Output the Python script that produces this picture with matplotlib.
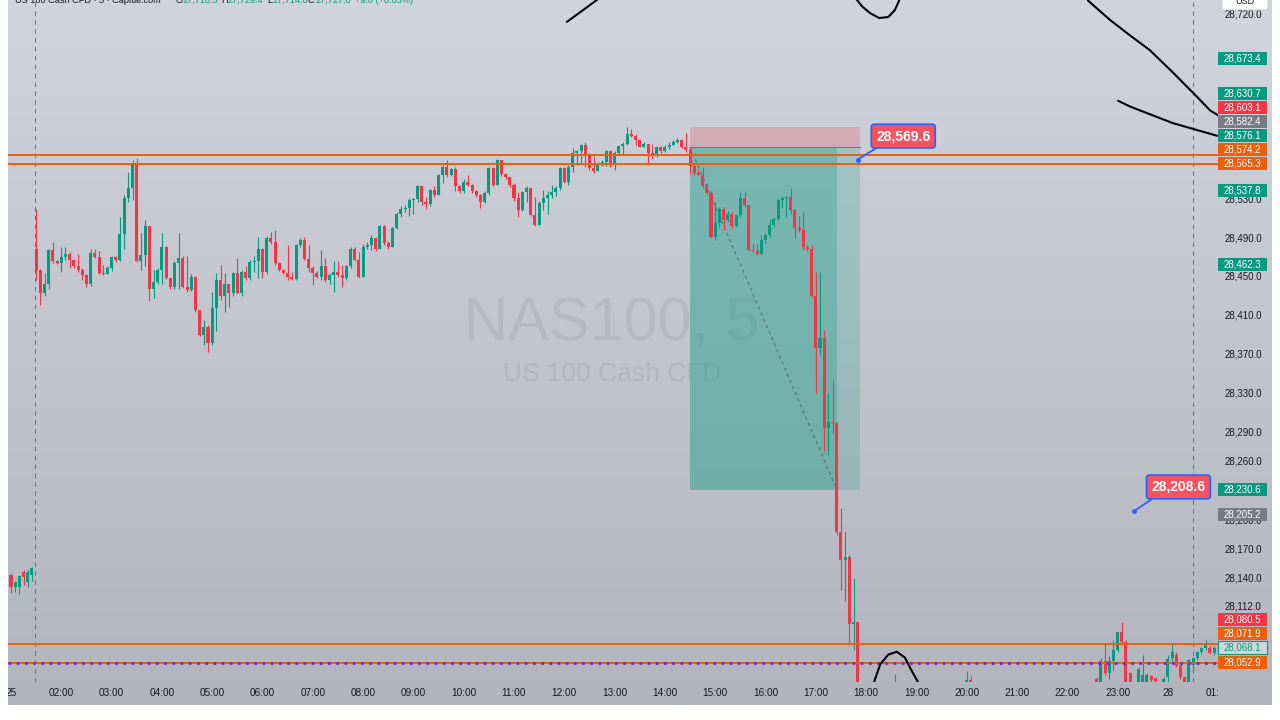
import numpy as np
import pandas as pd
import matplotlib
matplotlib.use('Agg')
import matplotlib.pyplot as plt
from matplotlib.patches import Rectangle, FancyBboxPatch
from matplotlib.transforms import Bbox, blended_transform_factory

plt.rcParams['font.family'] = ['Liberation Sans', 'DejaVu Sans']

# ---- data: NAS100 5-minute candles ----
# 01:00 - 01:25, before the session break
pre_open = [28143, 28130, 28130, 28146, 28136, 28143]
pre_high = [28145, 28137, 28143, 28148, 28148, 28151]
pre_low = [28124, 28125, 28123, 28133, 28130, 28137]
pre_close = [28131, 28136, 28142, 28141, 28146, 28150]

# 01:30 - 17:50 (open of each bar = previous close)
first_open = 28478
closes = [
    28456, 28432, 28442, 28477, 28465, 28463, 28470, 28473, 28466, 28460,
    28456, 28451, 28442, 28474, 28470, 28453, 28452, 28458, 28470, 28466,
    28493, 28530, 28540, 28566, 28465, 28472, 28501, 28437, 28444, 28456,
    28480, 28448, 28439, 28463, 28468, 28439, 28436, 28449, 28415, 28389,
    28398, 28381, 28417, 28446, 28429, 28442, 28432, 28453, 28432, 28454,
    28448, 28464, 28465, 28478, 28454, 28489, 28485, 28463, 28456, 28453,
    28449, 28447, 28482, 28487, 28467, 28458, 28453, 28449, 28460, 28446,
    28451, 28454, 28451, 28448, 28460, 28478, 28466, 28449, 28480, 28482,
    28489, 28478, 28501, 28484, 28480, 28499, 28514, 28519, 28520, 28528,
    28529, 28542, 28526, 28524, 28538, 28533, 28554, 28562, 28554, 28560,
    28542, 28537, 28547, 28543, 28537, 28533, 28526, 28535, 28561, 28543,
    28569, 28555, 28552, 28543, 28530, 28518, 28536, 28540, 28513, 28502,
    28525, 28530, 28533, 28536, 28540, 28561, 28547, 28562, 28576, 28578,
    28585, 28574, 28561, 28558, 28565, 28567, 28578, 28564, 28576, 28584,
    28586, 28596, 28594, 28590, 28583, 28586, 28576, 28574, 28583, 28578,
    28583, 28585, 28588, 28590, 28583, 28579, 28563, 28556, 28554, 28542,
    28535, 28490, 28504, 28519, 28507, 28514, 28501, 28513, 28530, 28523,
    28477, 28476, 28473, 28487, 28492, 28502, 28509, 28528, 28530, 28531,
    28518, 28499, 28497, 28480, 28478, 28429, 28376, 28386, 28294, 28300,
    28299, 28187, 28158, 28161, 28092, 28095, 28020,
]
highs = [
    28519, 28457, 28453, 28478, 28485, 28466, 28480, 28480, 28475, 28467,
    28473, 28458, 28452, 28478, 28478, 28476, 28461, 28460, 28471, 28471,
    28511, 28533, 28557, 28569, 28571, 28494, 28507, 28501, 28456, 28458,
    28494, 28481, 28448, 28465, 28494, 28471, 28471, 28452, 28450, 28415,
    28405, 28400, 28434, 28453, 28461, 28453, 28442, 28454, 28468, 28456,
    28460, 28466, 28471, 28490, 28479, 28491, 28495, 28497, 28464, 28457,
    28482, 28454, 28483, 28489, 28490, 28482, 28460, 28455, 28477, 28468,
    28453, 28465, 28465, 28461, 28461, 28480, 28480, 28475, 28483, 28485,
    28492, 28490, 28502, 28502, 28486, 28500, 28516, 28522, 28523, 28530,
    28530, 28543, 28542, 28531, 28539, 28542, 28555, 28564, 28569, 28561,
    28562, 28543, 28550, 28554, 28544, 28538, 28534, 28537, 28562, 28562,
    28570, 28569, 28556, 28552, 28545, 28536, 28537, 28542, 28540, 28531,
    28527, 28538, 28537, 28543, 28542, 28562, 28562, 28564, 28581, 28579,
    28586, 28588, 28576, 28573, 28567, 28569, 28579, 28578, 28578, 28585,
    28588, 28603, 28601, 28596, 28590, 28588, 28586, 28586, 28584, 28584,
    28585, 28588, 28590, 28592, 28591, 28597, 28582, 28566, 28560, 28562,
    28545, 28537, 28526, 28521, 28521, 28517, 28516, 28514, 28536, 28536,
    28523, 28483, 28483, 28492, 28494, 28509, 28511, 28530, 28532, 28532,
    28540, 28519, 28512, 28516, 28482, 28482, 28454, 28454, 28394, 28330,
    28343, 28300, 28212, 28187, 28163, 28140, 28095,
]
lows = [
    28446, 28420, 28429, 28437, 28463, 28462, 28454, 28466, 28458, 28458,
    28454, 28446, 28439, 28440, 28468, 28452, 28451, 28452, 28455, 28464,
    28465, 28478, 28526, 28528, 28464, 28456, 28460, 28424, 28427, 28442,
    28442, 28447, 28437, 28437, 28437, 28438, 28434, 28435, 28413, 28388,
    28379, 28372, 28379, 28393, 28425, 28413, 28418, 28429, 28431, 28429,
    28446, 28446, 28454, 28448, 28448, 28452, 28483, 28461, 28455, 28452,
    28446, 28446, 28446, 28480, 28466, 28454, 28441, 28448, 28446, 28444,
    28442, 28434, 28449, 28439, 28446, 28458, 28465, 28448, 28449, 28478,
    28477, 28476, 28478, 28482, 28478, 28480, 28498, 28511, 28516, 28512,
    28514, 28526, 28523, 28519, 28522, 28531, 28533, 28545, 28552, 28553,
    28537, 28535, 28535, 28542, 28535, 28531, 28520, 28525, 28533, 28542,
    28543, 28553, 28550, 28541, 28527, 28511, 28517, 28526, 28512, 28501,
    28502, 28518, 28514, 28530, 28532, 28538, 28545, 28543, 28557, 28564,
    28566, 28562, 28559, 28556, 28558, 28563, 28563, 28562, 28559, 28574,
    28574, 28585, 28593, 28585, 28583, 28582, 28566, 28570, 28572, 28576,
    28577, 28580, 28585, 28587, 28581, 28577, 28555, 28554, 28553, 28540,
    28533, 28489, 28487, 28500, 28497, 28505, 28499, 28500, 28511, 28521,
    28476, 28475, 28472, 28474, 28484, 28490, 28500, 28507, 28520, 28511,
    28514, 28489, 28495, 28477, 28476, 28428, 28330, 28369, 28270, 28266,
    28288, 28184, 28127, 28116, 28071, 28066, 27990,
]

# evening / overnight bars that reach into the visible price range
late_times = ['18:35', '20:00', '20:05', '22:35', '22:40', '22:45', '22:50', '22:55',
              '23:00', '23:05', '23:10', '23:15', '23:25', '23:30', '23:35', '23:40',
              '23:45', '23:55', '00:00', '00:05', '00:10', '00:15', '00:20', '00:25',
              '00:30', '00:35', '00:40', '00:45', '00:50', '00:55']
late_open = [28030, 28005, 28035, 28036, 28010, 28054, 28042, 28054,
             28066, 28084, 28074, 28042, 28025, 28033, 28030, 28039,
             28037, 28020, 28038, 28058, 28061, 28050, 28038, 28030,
             28050, 28058, 28064, 28068, 28068, 28063]
late_high = [28041, 28044, 28039, 28038, 28058, 28073, 28060, 28076,
             28084, 28095, 28076, 28043, 28048, 28061, 28042, 28040,
             28037, 28038, 28061, 28073, 28064, 28051, 28039, 28057,
             28059, 28065, 28069, 28076, 28070, 28070]
late_low = [28000, 28000, 28000, 28000, 28005, 28040, 28036, 28045,
            28064, 28072, 28000, 28000, 28010, 28020, 28020, 28020,
            28020, 28010, 28030, 28052, 28048, 28036, 28010, 28025,
            28046, 28056, 28062, 28066, 28062, 28061]
late_close = [28010, 28035, 28010, 28010, 28054, 28042, 28054, 28066,
              28084, 28074, 28010, 28020, 28046, 28040, 28040, 28035,
              28034, 28036, 28057, 28064, 28049, 28038, 28030, 28056,
              28058, 28064, 28068, 28073, 28063, 28068.1]

# drawn levels and short-position tool
level_prices = [28574.2, 28565.3, 28071.9, 28052.9]
dotted_level = 28052.9
entry_price, stop_price, target_price = 28582.4, 28603.1, 28230.6
pos_start, pos_hit, pos_end = '14:30', '17:25', '17:53'
callout_values = [28569.6, 28208.6]
callout_times = ['17:50', '23:20']

# price-scale labels
label_vals = [28673.4, 28630.7, 28603.1, 28582.4, 28576.1, 28574.2, 28565.3, 28537.8,
              28462.3, 28230.6, 28205.2, 28080.5, 28071.9, 28068.1, 28052.9]
label_kinds = ['up', 'up', 'down', 'gray', 'up', 'level', 'level', 'up',
               'up', 'up', 'gray', 'down', 'level', 'last', 'level']
ytick_vals = [28720, 28530, 28490, 28450, 28410, 28370, 28330, 28290, 28260,
              28200, 28170, 28140, 28112]
xtick_hours = [1] + list(range(2, 24)) + [24, 25]
xtick_labels = ['25'] + [f'{h:02d}:00' for h in range(2, 24)] + ['28', '01:00']

GREEN = '#089981'
RED = '#f23645'
ORANGE = '#ec5f0a'
BLUE = '#2962ff'
TEXT = '#131722'


def hours(s):
    h, m = s.split(':')
    v = int(h) + int(m) / 60
    return v + 24 if v < 1 else v


# ---- build OHLC ----
t_pre = pd.date_range('2025-06-27 01:00', periods=len(pre_close), freq='5min')
t_main = pd.date_range('2025-06-27 01:30', periods=len(closes), freq='5min')
c_main = np.array(closes, float)
o_main = np.r_[first_open, c_main[:-1]]
h_main = np.maximum(np.array(highs, float), np.maximum(o_main, c_main))
l_main = np.minimum(np.array(lows, float), np.minimum(o_main, c_main))

def to_h(ts):
    return np.array([t.hour + t.minute / 60 for t in ts])

T = np.r_[to_h(t_pre), to_h(t_main), [hours(s) for s in late_times]]
O = np.r_[pre_open, o_main, late_open]
Hh = np.r_[pre_high, h_main, late_high]
L = np.r_[pre_low, l_main, late_low]
C = np.r_[pre_close, c_main, late_close]

# ---- figure ----
W, H = 1280, 720
fig = plt.figure(figsize=(12.8, 7.2), dpi=100, facecolor='white')

def fx(px):
    return px / W

def fy(py):
    return 1 - py / H

# background gradient (chart + scales)
bg = fig.add_axes([fx(8), fy(705), fx(1264), 705 / H])
g = np.linspace(0, 1, 256)[:, None, None]
top_c = np.array([209, 212, 220]) / 255
bot_c = np.array([178, 181, 190]) / 255
bg.imshow(top_c + (bot_c - top_c) * g, aspect='auto', extent=[0, 1, 0, 1])
bg.axis('off')

ax = fig.add_axes([fx(8), fy(682), fx(1210), 682 / H])
ax.set_facecolor('none')
ytop, ybot = 28733.5, 28032.9
ax.set_xlim(0.9404, 24.996)
ax.set_ylim(ybot, ytop)
px_per_unit = 682 / (ytop - ybot)
for s in ax.spines.values():
    s.set_visible(False)
ax.set_xticks([])
ax.yaxis.tick_right()
ax.set_yticks(ytick_vals)
ax.set_yticklabels([f'{v:,.1f}' for v in ytick_vals])
ax.tick_params(axis='y', length=0, pad=5, labelsize=7, labelcolor=TEXT)

# watermark
ax.text(fx(612), fy(340), 'NAS100, 5', transform=fig.transFigure, ha='center',
        va='baseline', fontsize=44, color=TEXT, alpha=0.07, zorder=0)
ax.text(fx(612), fy(381), 'US 100 Cash CFD', transform=fig.transFigure, ha='center',
        va='baseline', fontsize=19, color=TEXT, alpha=0.07, zorder=0)

# session breaks
for tb in [1.475, 24.5]:
    ax.axvline(tb, color=BLUE, lw=0.8, ls=(0, (4, 4)), alpha=0.8, zorder=1)

# short position tool
ts, th, te = hours(pos_start), hours(pos_hit), hours(pos_end)
ax.add_patch(Rectangle((ts, entry_price), te - ts, stop_price - entry_price,
                       fc=RED, alpha=0.22, lw=0, zorder=1))
ax.add_patch(Rectangle((ts, target_price), th - ts, entry_price - target_price,
                       fc=GREEN, alpha=0.42, lw=0, zorder=1))
ax.add_patch(Rectangle((th, target_price), te - th, entry_price - target_price,
                       fc=GREEN, alpha=0.2, lw=0, zorder=1))
ax.plot([ts, te], [entry_price, entry_price], color='#6b7a78', lw=0.8, zorder=1.5)
ax.plot([ts, th], [entry_price, target_price], color='#4c525e', lw=0.8,
        ls=(0, (3, 3)), alpha=0.7, zorder=1.5)

# candles
up = C >= O
cols = np.where(up, GREEN, RED)
ax.vlines(T, L, Hh, colors=cols, lw=0.8, zorder=3)
ax.bar(T, np.maximum(np.abs(C - O), 1.0), bottom=np.minimum(O, C), width=0.06,
       color=cols, lw=0, zorder=4)

# horizontal levels
for lv in level_prices:
    ax.axhline(lv, color=ORANGE, lw=1.4, zorder=5)
ax.axhline(dotted_level, color='#7030b0', lw=2, ls=(0, (1, 1.95)), zorder=5.5)

# freehand strokes (time, price)
strokes = [
    ([12.05, 12.37, 12.71], [28711, 28723, 28736]),
    ([17.78, 17.92, 18.08, 18.26, 18.44, 18.57, 18.64, 18.69],
     [28736, 28727, 28720, 28715, 28716, 28723, 28731, 28737]),
    ([22.41, 22.85, 23.25, 23.64, 24.10, 24.58, 24.84, 25.0],
     [28733, 28713, 28697, 28682, 28659, 28634, 28620, 28615]),
    ([23.01, 23.25, 24.10, 24.98], [28630, 28624, 28607, 28594]),
    ([18.16, 18.28, 18.44, 18.61, 18.77, 18.90, 19.03],
     [28033, 28051, 28061, 28064, 28058, 28045, 28033]),
]
for xs, ys in strokes:
    ax.plot(xs, ys, color='black', lw=1.5, solid_capstyle='round', zorder=7)

# callouts
offsets = [(32.8, 16.9), (31.7, 17.3)]
for val, tm, off in zip(callout_values, callout_times, offsets):
    tx = hours(tm)
    ax.annotate(f'{val:,.1f}', xy=(tx, val), xytext=off, textcoords='offset points',
                ha='center', va='center', color='white', fontsize=10, fontweight='bold',
                bbox=dict(boxstyle='round,pad=0.35,rounding_size=0.2', fc='#f7525f',
                          ec=BLUE, lw=1.2),
                arrowprops=dict(arrowstyle='-', color=BLUE, lw=1.3, relpos=(0.15, 0.0),
                                shrinkA=0, shrinkB=0),
                zorder=8)
    ax.plot(tx, val, 'o', ms=2.5, color=BLUE, zorder=8)

# price-scale labels, stacked so they do not overlap
kind_fc = {'up': GREEN, 'down': RED, 'gray': '#787b86', 'level': ORANGE, 'last': '#cfd5da'}
lab_tr = blended_transform_factory(ax.transAxes, ax.transData)
box_w = 49 / 1210
box_h = 13 / px_per_unit
gap = 14 / px_per_unit
disp = np.empty(len(label_vals))
prev = -np.inf
for i in np.argsort(label_vals):
    prev = max(label_vals[i], prev + gap)
    disp[i] = prev
for val, kind, d in zip(label_vals, label_kinds, disp):
    ec = GREEN if kind == 'last' else 'none'
    tc = GREEN if kind == 'last' else 'white'
    ax.add_patch(Rectangle((1.0, d - box_h / 2), box_w, box_h, transform=lab_tr,
                           fc=kind_fc[kind], ec=ec, lw=0.8, clip_on=False, zorder=10))
    ax.text(1.0 + box_w / 2, d, f'{val:,.1f}', transform=lab_tr, ha='center',
            va='center', fontsize=7, color=tc, clip_on=False, zorder=11)

# time axis labels (clipped at the price scale)
xtr = blended_transform_factory(ax.transData, fig.transFigure)
clip = Bbox.from_extents(8, 0, 1218, 720)
for pos, lab in zip(xtick_hours, xtick_labels):
    t = ax.text(pos, fy(693), lab, transform=xtr, ha='center', va='center',
                fontsize=7.2, color=TEXT, clip_on=True, zorder=11)
    t.set_clip_path(None)
    t.set_clip_box(clip)

# header line (cut at the top edge)
header = [(15, 'US 100 Cash CFD · 5 · Capital.com', TEXT),
          (176, 'O', TEXT), (182, '27,718.3', GREEN),
          (221, 'H', TEXT), (227, '27,729.4', GREEN),
          (267, 'L', TEXT), (272, '27,714.0', GREEN),
          (308, 'C', TEXT), (315, '27,727.0', GREEN),
          (355, '+9.0 (+0.03%)', GREEN)]
for x, s, c in header:
    fig.text(fx(x), fy(0.5), s, ha='left', va='center', fontsize=6.6, color=c, zorder=20)

# currency box
fig.add_artist(FancyBboxPatch((fx(1222), fy(10)), fx(46), 16 / H,
                              boxstyle='round,pad=0,rounding_size=0.003',
                              transform=fig.transFigure, fc='white', ec='#c8cbd3',
                              lw=0.6, zorder=20))
fig.text(fx(1245), fy(2), 'USD', ha='center', va='center', fontsize=6.5,
         color=TEXT, zorder=21)

fig.savefig('out.png', dpi=100, facecolor='white')
